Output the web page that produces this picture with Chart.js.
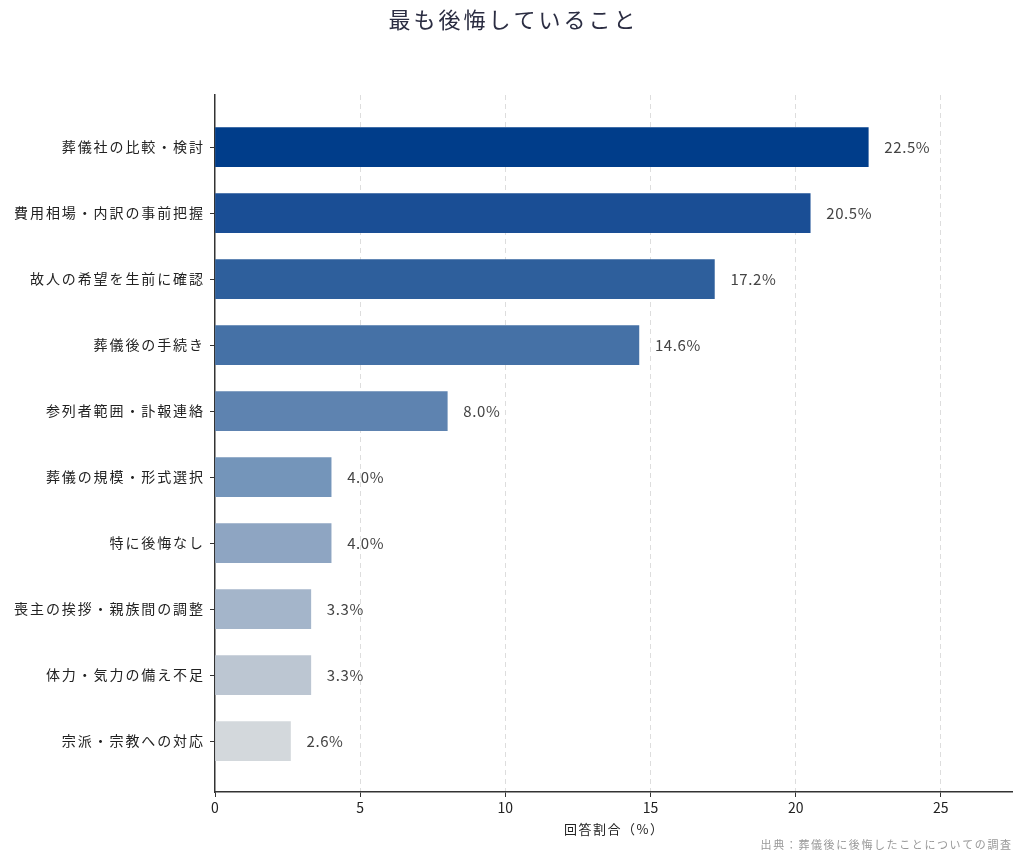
<!DOCTYPE html>
<html lang="ja">
<head>
<meta charset="utf-8">
<title>最も後悔していること</title>
<script src="https://cdn.jsdelivr.net/npm/chart.js@4.4.1/dist/chart.umd.min.js"></script>
<style>
  html, body { margin: 0; padding: 0; background: #fff; }
  canvas { display: block; }
</style>
</head>
<body>
<canvas id="regretChart" width="1024" height="862"></canvas>
<script>
// data
const categories = [
    '葬儀社の比較・検討',
    '費用相場・内訳の事前把握',
    '故人の希望を生前に確認',
    '葬儀後の手続き',
    '参列者範囲・訃報連絡',
    '葬儀の規模・形式選択',
    '特に後悔なし',
    '喪主の挨拶・親族間の調整',
    '体力・気力の備え不足',
    '宗派・宗教への対応'
];
const shares = [22.5, 20.5, 17.2, 14.6, 8.0, 4.0, 4.0, 3.3, 3.3, 2.6];
const barColors = ['#003d8a', '#1a4e95', '#2e5f9c', '#4571a6', '#5e83b0', '#7495ba', '#8ea5c2', '#a4b5ca', '#bcc6d2', '#d3d8dc'];
const xTicks = [0, 5, 10, 15, 20, 25];

const FONT = '"Noto Sans CJK JP", "Noto Sans", sans-serif';

// text helper with spacing, the reference font is wide-set
function spaced(ctx, text, x, y, size, color, align, spacing) {
    ctx.font = size + 'px ' + FONT;
    ctx.fillStyle = color;
    ctx.letterSpacing = spacing + 'px';
    ctx.textBaseline = 'middle';
    let w = ctx.measureText(text).width - spacing; // trailing space not wanted
    let sx = x;
    if (align === 'center') sx = x - w / 2;
    if (align === 'right') sx = x - w;
    ctx.textAlign = 'left';
    ctx.fillText(text, sx, y);
}

const textPlugin = {
    id: 'texts',
    afterDatasetsDraw(chart) {
        const ctx = chart.ctx;
        const meta = chart.getDatasetMeta(0);
        ctx.save();
        meta.data.forEach((bar, i) => {
            spaced(ctx, shares[i].toFixed(1) + '%', bar.x + 16, bar.y, 15, '#444', 'left', 0.6);
        });
        ctx.restore();
    },
    afterDraw(chart) {
        const ctx = chart.ctx;
        const y = chart.scales.y;
        const x = chart.scales.x;
        ctx.save();
        // category labels
        categories.forEach((c, i) => {
            spaced(ctx, c, y.right - 12, y.getPixelForValue(i), 14, '#222', 'right', 1.9);
        });
        spaced(ctx, '最も後悔していること', 512, 20, 22, '#2b2d42', 'center', 3);
        spaced(ctx, '回答割合（%）', (x.left + x.right) / 2, 829, 13, '#222', 'center', 1.5);
        spaced(ctx, '出典：葬儀後に後悔したことについての調査', 1011, 845, 11, '#999', 'right', 1.6);
        ctx.restore();
    }
};

new Chart(document.getElementById('regretChart'), {
    type: 'bar',
    data: {
        datasets: [{
            data: shares.map((v, i) => ({ x: v, y: i })),
            backgroundColor: barColors,
            barThickness: 39
        }]
    },
    options: {
        indexAxis: 'y',
        responsive: false,
        devicePixelRatio: 1,
        animation: false,
        layout: { padding: { top: 95, right: 12, bottom: 0, left: 0 } },
        plugins: {
            legend: { display: false },
            title: { display: false },
            tooltip: { enabled: false }
        },
        scales: {
            x: {
                type: 'linear',
                min: 0,
                max: 27.45,
                afterFit(scale) { scale.height = 70; },
                afterBuildTicks(scale) { scale.ticks = xTicks.map(v => ({ value: v })); },
                ticks: {
                    color: '#222',
                    font: { size: 14, family: FONT },
                    padding: 2
                },
                grid: {
                    color: c => (c.tick && c.tick.value === 0) ? 'rgba(0,0,0,0)' : '#dddddd',
                    lineWidth: 1,
                    drawTicks: true,
                    tickLength: 5,
                    tickColor: '#333',
                    tickBorderDash: []
                },
                border: { display: true, color: '#333', width: 1.5, dash: [5, 4] }
            },
            y: {
                type: 'linear',
                reverse: true,
                offset: false,
                min: -0.79,
                max: 9.77,
                afterFit(scale) { scale.width = 215; },
                afterBuildTicks(scale) { scale.ticks = categories.map((_, i) => ({ value: i })); },
                ticks: { display: false },
                grid: {
                    offset: false,
                    drawOnChartArea: false,
                    drawTicks: true,
                    tickLength: 5,
                    tickColor: '#333'
                },
                border: { display: true, color: '#333', width: 1.5 }
            }
        }
    },
    plugins: [textPlugin]
});
</script>
</body>
</html>
